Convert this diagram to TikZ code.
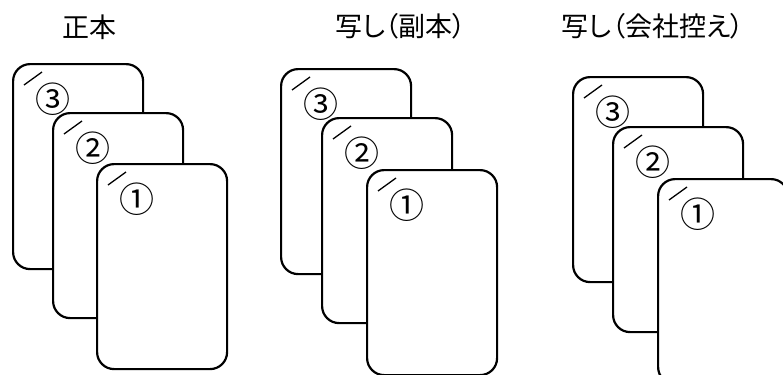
\documentclass[tikz,border=0pt]{standalone}
\usepackage{fontspec}
\newfontfamily\jpfont[RawFeature=+palt]{Noto Sans CJK JP}
\usetikzlibrary{calc}
\newcommand\papercard[4]{%
  \node[card] (#1) at (#2,#3) {};
  \draw[tick] ($(#1.north west)+(12,22)$) -- ($(#1.north west)+(30,9)$);
  \node[num] (#1n) at ($(#1.north west)+(41,36)$) {#4};
}
\begin{document}
\begin{tikzpicture}[x=1bp,y=-1bp,
  card/.style={draw, line width=2.2bp, rounded corners=17bp, fill=white,
    minimum width=130bp, minimum height=205bp, inner sep=0pt, anchor=north west},
  title/.style={font=\jpfont\fontsize{27bp}{30bp}\selectfont, inner sep=0pt},
  num/.style={font=\jpfont\fontsize{35bp}{38bp}\selectfont, inner sep=0pt},
  tick/.style={line width=1.3bp}]
\useasboundingbox (0,0) rectangle (783,374);
\node[title] (t1) at (89,27) {正本};
\node[title] (t2) at (401,26) {写し（副本）};
\node[title] (t3) at (653,26) {写し（会社控え）};
\begin{scope}
\clip (0,0) rectangle (783,374);
\papercard{a3}{12}{63}{③}
\papercard{a2}{52}{112}{②}
\papercard{a1}{96}{163}{①}
\papercard{b3}{280}{68}{③}
\papercard{b2}{321}{117}{②}
\papercard{b1}{366}{169}{①}
\papercard{c3}{572}{76}{③}
\papercard{c2}{612}{126}{②}
\papercard{c1}{657}{178}{①}
\end{scope}
\end{tikzpicture}
\end{document}
